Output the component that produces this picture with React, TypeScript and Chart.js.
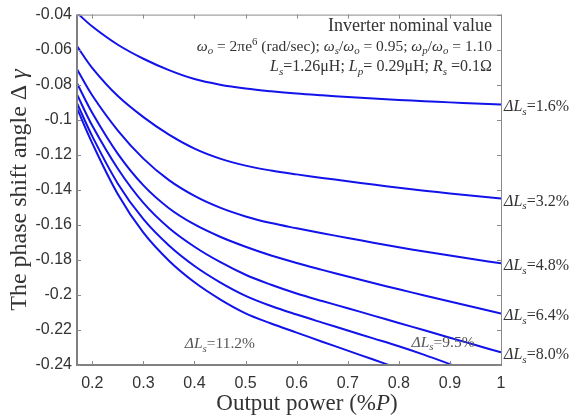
import React, { useEffect, useRef } from 'react';
import { Chart, registerables } from 'chart.js';

Chart.register(...registerables);

// ---- data ----
const xValues = [0.17, 0.2, 0.25, 0.3, 0.35, 0.4, 0.45, 0.5, 0.55, 0.6, 0.65, 0.7, 0.75, 0.8, 0.85, 0.9, 0.95, 1.0];
const curve16 = [-0.039, -0.0468, -0.0572, -0.0652, -0.0717, -0.0768, -0.08, -0.0822, -0.0838, -0.0851, -0.0861, -0.087, -0.0879, -0.0887, -0.0894, -0.0901, -0.0907, -0.0913];
const curve32 = [-0.058, -0.0705, -0.0865, -0.0985, -0.1085, -0.1165, -0.1222, -0.1262, -0.129, -0.1312, -0.1332, -0.1351, -0.137, -0.1388, -0.1405, -0.1421, -0.1436, -0.145];
const curve48 = [-0.0712, -0.0862, -0.1062, -0.1222, -0.1345, -0.1435, -0.1502, -0.1552, -0.159, -0.162, -0.1648, -0.1675, -0.1702, -0.1728, -0.1752, -0.1775, -0.1798, -0.182];
const curve64 = [-0.0792, -0.0962, -0.1195, -0.1375, -0.1505, -0.1598, -0.1668, -0.1725, -0.1775, -0.1818, -0.1857, -0.1895, -0.1932, -0.1968, -0.2003, -0.2038, -0.2072, -0.2106];
const curve80 = [-0.0856, -0.1035, -0.128, -0.1475, -0.1618, -0.1725, -0.1812, -0.1885, -0.1942, -0.1992, -0.2035, -0.2076, -0.2118, -0.216, -0.2202, -0.2244, -0.2286, -0.2328];
const xValues95 = [0.17, 0.2, 0.25, 0.3, 0.35, 0.4, 0.45, 0.5, 0.55, 0.6, 0.65, 0.7, 0.75, 0.8, 0.85, 0.91];
const curve95 = [-0.0905, -0.1095, -0.1365, -0.1568, -0.1718, -0.1835, -0.1928, -0.2005, -0.2063, -0.2112, -0.2158, -0.2203, -0.2248, -0.2293, -0.2342, -0.2405];
const xValues112 = [0.17, 0.2, 0.25, 0.3, 0.35, 0.4, 0.45, 0.5, 0.55, 0.6, 0.65, 0.7, 0.75, 0.79];
const curve112 = [-0.0935, -0.1135, -0.1425, -0.1645, -0.1805, -0.1928, -0.2025, -0.2105, -0.2163, -0.2215, -0.2267, -0.2318, -0.2369, -0.241];

const seriesLabels = ['1.6%', '3.2%', '4.8%', '6.4%', '8.0%', '9.5%', '11.2%'];
const xTicks = [0.2, 0.3, 0.4, 0.5, 0.6, 0.7, 0.8, 0.9, 1];
const yTicks = [-0.24, -0.22, -0.2, -0.18, -0.16, -0.14, -0.12, -0.1, -0.08, -0.06, -0.04];
// in-plot label anchors (data coords, left edge / vertical centre)
const insideLabelPos = { '11.2%': [0.381, -0.2276], '9.5%': [0.825, -0.2268] } as Record<string, number[]>;

const BLUE = 'rgb(18,18,235)';
const TEXT = '#333333';
const SERIF = '"Liberation Serif", "Times New Roman", serif';
const SANS = '"Liberation Sans", Arial, sans-serif';

type Seg = { t: string; i?: boolean; sub?: boolean; sup?: boolean };

function drawRich(ctx: CanvasRenderingContext2D, segs: Seg[], x: number, y: number, size: number, align: 'left' | 'right' | 'center') {
  const fontOf = (s: Seg) => {
    const sz = s.sub || s.sup ? size * 0.7 : size;
    return `${s.i ? 'italic ' : ''}${sz}px ${SERIF}`;
  };
  let total = 0;
  const widths = segs.map((s) => {
    ctx.font = fontOf(s);
    const w = ctx.measureText(s.t).width;
    total += w;
    return w;
  });
  let cx = align === 'left' ? x : align === 'right' ? x - total : x - total / 2;
  ctx.textAlign = 'left';
  ctx.textBaseline = 'alphabetic';
  segs.forEach((s, k) => {
    ctx.font = fontOf(s);
    const dy = s.sub ? size * 0.22 : s.sup ? -size * 0.38 : 0;
    ctx.fillText(s.t, cx, y + dy);
    cx += widths[k];
  });
}

const dL = (v: string): Seg[] => [{ t: 'Δ', i: true }, { t: 'L', i: true }, { t: 's', i: true, sub: true }, { t: '=' + v }];

const decorPlugin = {
  id: 'decor',
  afterDraw(chart: any) {
    const ctx: CanvasRenderingContext2D = chart.ctx;
    const { left, right, top, bottom } = chart.chartArea;
    const xs = chart.scales.x;
    const ys = chart.scales.y;
    ctx.save();
    // frame
    ctx.strokeStyle = '#8a8a8a';
    ctx.lineWidth = 1;
    ctx.beginPath();
    ctx.moveTo(left, top + 0.5);
    ctx.lineTo(right, top + 0.5);
    ctx.moveTo(right + 0.5, top);
    ctx.lineTo(right + 0.5, bottom);
    ctx.stroke();
    ctx.lineWidth = 2;
    ctx.strokeStyle = '#808080';
    ctx.beginPath();
    ctx.moveTo(left, top);
    ctx.lineTo(left, bottom);
    ctx.lineTo(right + 1, bottom);
    ctx.stroke();
    // inside ticks
    ctx.lineWidth = 1;
    ctx.strokeStyle = '#8a8a8a';
    ctx.beginPath();
    const tl = 4;
    xTicks.forEach((v) => {
      const px = Math.round(xs.getPixelForValue(v)) + 0.5;
      ctx.moveTo(px, bottom);
      ctx.lineTo(px, bottom - tl);
      ctx.moveTo(px, top);
      ctx.lineTo(px, top + tl);
    });
    yTicks.forEach((v) => {
      const py = Math.round(ys.getPixelForValue(v)) + 0.5;
      ctx.moveTo(left, py);
      ctx.lineTo(left + tl, py);
      ctx.moveTo(right, py);
      ctx.lineTo(right - tl, py);
    });
    ctx.stroke();

    ctx.fillStyle = TEXT;
    // axis titles
    drawRich(ctx, [{ t: 'Output power (%' }, { t: 'P', i: true }, { t: ')' }], 307, 410, 23, 'center');
    ctx.save();
    ctx.translate(26, 190);
    ctx.rotate(-Math.PI / 2);
    drawRich(ctx, [{ t: 'The phase shift angle Δ ' }, { t: 'γ', i: true }], 0, 0, 24, 'center');
    ctx.restore();

    // annotation box
    drawRich(ctx, [{ t: 'Inverter nominal value' }], 492, 31, 18, 'right');
    drawRich(
      ctx,
      [
        { t: 'ω', i: true }, { t: 'o', i: true, sub: true }, { t: ' = 2πe' }, { t: '6', sup: true }, { t: ' (rad/sec); ' },
        { t: 'ω', i: true }, { t: 's', i: true, sub: true }, { t: '/' }, { t: 'ω', i: true }, { t: 'o', i: true, sub: true }, { t: ' = 0.95; ' },
        { t: 'ω', i: true }, { t: 'p', i: true, sub: true }, { t: '/' }, { t: 'ω', i: true }, { t: 'o', i: true, sub: true }, { t: ' = 1.10' },
      ],
      492, 51, 15.5, 'right'
    );
    drawRich(
      ctx,
      [
        { t: 'L', i: true }, { t: 's', i: true, sub: true }, { t: '=1.26μH; ' },
        { t: 'L', i: true }, { t: 'p', i: true, sub: true }, { t: '= 0.29μH; ' },
        { t: 'R', i: true }, { t: 's', i: true, sub: true }, { t: ' =0.1Ω' },
      ],
      492, 71, 16, 'right'
    );

    // series end labels
    chart.data.datasets.forEach((ds: any, k: number) => {
      const lab = seriesLabels[k];
      if (insideLabelPos[lab]) {
        const [lx, ly] = insideLabelPos[lab];
        ctx.fillStyle = '#555555';
        drawRich(ctx, dL(lab), xs.getPixelForValue(lx), ys.getPixelForValue(ly) + 5, 15.5, 'left');
      } else {
        const last = ds.data[ds.data.length - 1];
        ctx.fillStyle = TEXT;
        drawRich(ctx, dL(lab), right + 3, ys.getPixelForValue(last.y) + 7, 16, 'left');
      }
    });
    ctx.restore();
  },
};

function App() {
  const ref = useRef<HTMLCanvasElement | null>(null);
  useEffect(() => {
    if (!ref.current) return;
    const mk = (xsArr: number[], ysArr: number[]) => xsArr.map((x, i) => ({ x, y: ysArr[i] }));
    const allData = [
      mk(xValues, curve16),
      mk(xValues, curve32),
      mk(xValues, curve48),
      mk(xValues, curve64),
      mk(xValues, curve80),
      mk(xValues95, curve95),
      mk(xValues112, curve112),
    ];
    const chart = new Chart(ref.current, {
      type: 'line',
      data: {
        datasets: allData.map((d, k) => ({
          label: seriesLabels[k],
          data: d,
          borderColor: BLUE,
          borderWidth: 2,
          pointRadius: 0,
          fill: false,
          tension: 0.35,
        })),
      },
      options: {
        responsive: false,
        animation: false,
        layout: { padding: { left: 8, right: 72, top: 10, bottom: 0 } },
        plugins: { legend: { display: false }, tooltip: { enabled: false } },
        scales: {
          x: {
            type: 'linear',
            min: 0.17,
            max: 1,
            afterBuildTicks: (s: any) => { s.ticks = xTicks.map((v) => ({ value: v })); },
            afterFit: (s: any) => { s.height = 53; },
            grid: { display: false, drawTicks: false },
            border: { display: false },
            ticks: {
              color: TEXT,
              padding: 9,
              font: { family: SANS, size: 16 },
              callback: (v: any) => String(Number(Number(v).toFixed(2))),
            },
          },
          y: {
            type: 'linear',
            min: -0.24,
            max: -0.04,
            afterBuildTicks: (s: any) => { s.ticks = yTicks.map((v) => ({ value: v })); },
            afterFit: (s: any) => { s.width = 69; },
            grid: { display: false, drawTicks: false },
            border: { display: false },
            ticks: {
              color: TEXT,
              padding: 5,
              font: { family: SANS, size: 16 },
              callback: (v: any) => String(Number(Number(v).toFixed(2))),
            },
          },
        },
      },
      plugins: [decorPlugin],
    });
    return () => chart.destroy();
  }, []);
  return (
    <div style={{ position: 'fixed', left: 0, top: 0, width: 573, height: 418, background: '#fff' }}>
      <canvas ref={ref} width={573} height={418} style={{ width: 573, height: 418, display: 'block' }} />
    </div>
  );
}

export default App;
